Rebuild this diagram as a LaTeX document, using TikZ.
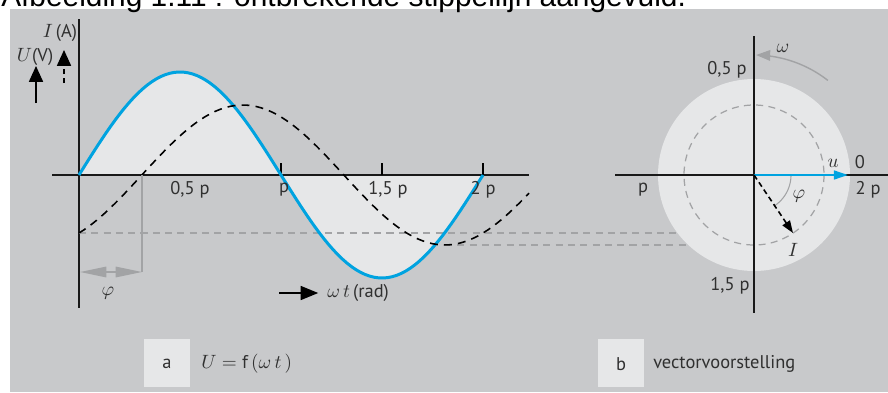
\documentclass[tikz,border=0pt]{standalone}
\usepackage{fontspec}
\setmainfont{PT Sans}
\newfontfamily\titlefont{Liberation Sans}
\usetikzlibrary{arrows.meta}
\definecolor{bggray}{HTML}{C8C9CB}
\definecolor{lightfill}{HTML}{E6E7E8}
\definecolor{waveblue}{HTML}{00A3E0}
\definecolor{helpgray}{HTML}{A2A3A5}
\definecolor{labelgray}{HTML}{303030}

\begin{document}
\begin{tikzpicture}[x=0.02cm,y=-0.02cm,line width=0.3pt,
  lbl/.style={font=\fontsize{10.5}{12}\selectfont,text=labelgray,inner sep=0pt},
  axisline/.style={line width=1.1pt,black!90},
  helpline/.style={helpgray,line width=0.7pt,dash pattern=on 4pt off 3pt},
  bigtip/.style={-{Triangle[length=9pt,width=8pt]}}]
\useasboundingbox (0,0) rectangle (888,392);
\fill[bggray] (10,9) rectangle (888,392);
\node[anchor=base west,font=\titlefont\fontsize{17}{20}\selectfont,inner sep=0pt] (title) at (1,7) {Afbeelding 1.11 : ontbrekende stippellijn aangevuld.};

% a: U and I against omega t
\coordinate (O1) at (79,175);
\coordinate (Ilow) at (445,245);
\fill[lightfill] (O1) -- plot[domain=0:404,samples=90] ({79+\x},{175-103*sin(\x/404*360)}) -- cycle;
\draw[axisline] (79,19) -- (79,308);
\draw[axisline] (52,175) -- (529,175);
\foreach \t in {281,382,483} \draw[line width=0.8pt] (\t,175) -- (\t,163);
\draw[helpline] (79,233) -- (793,233);
\draw[helpline] (Ilow) -- (754,245);
\draw[waveblue,line width=1.7pt] plot[domain=0:404,samples=90] ({79+\x},{175-103*sin(\x/404*360)});
\draw[line width=0.9pt,dash pattern=on 4.5pt off 3.5pt] plot[domain=0:450,samples=90] ({79+\x},{175-70*sin(\x/404*360-56)});
\draw[helpgray,line width=0.8pt] (142,175) -- (142,272);
\draw[helpgray,line width=0.8pt,{Triangle[length=15pt,width=6pt]}-{Triangle[length=15pt,width=6pt]}] (80,272) -- (142,272);
\node[lbl] (phiA) at (108,293) {$\varphi$};
\node[lbl] (half) at (190,190) {0,5 p};
\node[lbl] (pi) at (284,190) {p};
\node[lbl] (onehalf) at (388,190) {1,5 p};
\node[lbl] (twopi) at (483,190) {2 p};
\node[lbl] (ampI) at (60,33) {$I$\,(A)};
\node[lbl] (ampU) at (35,57) {$U$(V)};
\draw[line width=0.8pt,dash pattern=on 3pt off 2pt,bigtip] (64,83) -- (64,50);
\draw[line width=0.8pt,bigtip] (36,103) -- (36,66);
\node[lbl,anchor=west] (wt) at (327,293) {$\omega\,t$\,(rad)};
\draw[line width=0.8pt,-{Triangle[length=10pt,width=8pt]},shorten >=5pt] (279,293) -- (wt.west);
\fill[lightfill] (144,339) rectangle (190,387);
\node[lbl] (capA) at (167,364) {a};
\node[lbl,anchor=west] (formula) at (201,364) {$U = \mathrm{f}\,(\omega\,t\,)$};

% b: vector diagram
\coordinate (O2) at (754,175);
\coordinate (Utip) at (848,175);
\coordinate (Itip) at (793,233);
\fill[lightfill] (O2) circle[radius=96];
\draw[helpline] (O2) circle[radius=70];
\draw[axisline] (754,36) -- (754,313);
\draw[axisline] (615,175) -- (888,175);
\draw[helpgray,line width=0.6pt] plot[domain=0:56,samples=20] ({754+37*cos(\x)},{175+37*sin(\x)});
\draw[helpgray,line width=0.8pt,-{Triangle[length=8pt,width=6pt]}] plot[domain=-52:-89,samples=30] ({754+120*cos(\x)},{175+120*sin(\x)});
\draw[waveblue,line width=1.2pt,-{Triangle[length=8pt,width=5pt]}] (O2) -- (Utip);
\draw[line width=0.9pt,dash pattern=on 3pt off 2pt,-{Triangle[length=7pt,width=5pt]}] (O2) -- (Itip);
\node[lbl] (omega) at (783,48) {$\omega$};
\node[lbl] (uvec) at (833,163) {$u$};
\node[lbl] (zero) at (860,162) {0};
\node[lbl] (twopiB) at (868,190) {2 p};
\node[lbl] (piB) at (643,190) {p};
\node[lbl] (halfB) at (727,70) {0,5 p};
\node[lbl] (onehalfB) at (730,286) {1,5 p};
\node[lbl] (phiB) at (799,196) {$\varphi$};
\node[lbl] (Ivec) at (793,250) {$I$};
\fill[lightfill] (598,339) rectangle (644,387);
\node[lbl] (capB) at (621,364) {b};
\node[lbl,anchor=west] (vector) at (653,364) {vectorvoorstelling};
\end{tikzpicture}
\end{document}
